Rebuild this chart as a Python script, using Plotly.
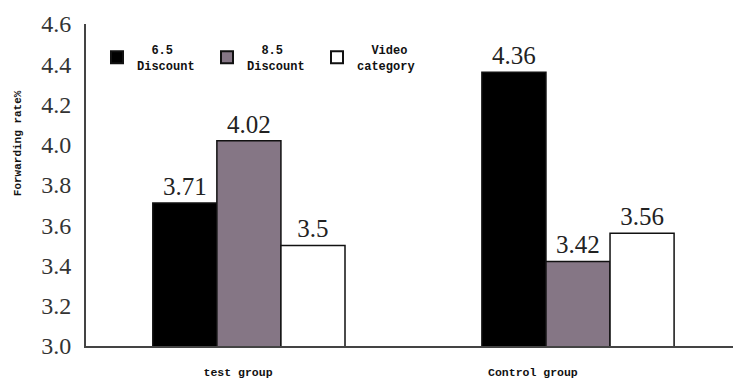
import plotly.graph_objects as go

groups = ["test group", "Control group"]
legend_labels = ["\u00a0\u00a06.5<br>Discount", "\u00a0\u00a08.5<br>Discount", "\u00a0\u00a0Video<br>category"]
disc65 = [3.71, 4.36]
disc85 = [4.02, 3.42]
video = [3.5, 3.56]
colors = ["#000000", "#857685", "#ffffff"]
ytick_vals = [3.0, 3.2, 3.4, 3.6, 3.8, 4.0, 4.2, 4.4, 4.6]
# category label positions (labels in the original sit slightly left of the bar groups)
label_pos = [-0.033, 0.863]

xpos = list(range(len(groups)))
fig = go.Figure()
for vals, name, col in zip([disc65, disc85, video], legend_labels, colors):
    fig.add_trace(go.Bar(
        x=xpos, y=vals, name=name,
        marker=dict(color=col, line=dict(color="#111111", width=1.5)),
        text=[f"{v:g}" for v in vals], textposition="outside",
        textfont=dict(family="Liberation Serif", size=25, color="#222222"),
        cliponaxis=False,
    ))

fig.update_layout(
    width=733, height=379,
    margin=dict(l=86, r=0, t=24, b=31),
    paper_bgcolor="white", plot_bgcolor="white",
    barmode="group", bargap=0.416, bargroupgap=0,
    showlegend=True,
    legend=dict(orientation="h", x=0.017, y=0.965, xanchor="left", yanchor="top",
                font=dict(family="Liberation Mono", size=12, color="#111111", weight="bold"),
                entrywidth=65, entrywidthmode="pixels",
                bgcolor="rgba(0,0,0,0)", itemsizing="constant"),
    xaxis=dict(range=[-0.495, 1.471], tickvals=label_pos, ticktext=groups,
               showgrid=False, zeroline=False, showline=True, linecolor="#444444", linewidth=2,
               ticks="", ticklabelstandoff=14,
               tickfont=dict(family="Liberation Mono", size=11.5, color="#111111", weight="bold")),
    yaxis=dict(range=[3.0, 4.6], tickvals=ytick_vals, ticktext=[f"{v:.1f}" for v in ytick_vals],
               showgrid=False, zeroline=False, showline=True, linecolor="#444444", linewidth=2,
               ticks="", ticklabelstandoff=8,
               tickfont=dict(family="Liberation Serif", size=24, color="#333333")),
    annotations=[dict(text="<b>Forwarding rate%</b>", xref="paper", yref="paper",
                      x=-0.105, y=0.63, xanchor="center", yanchor="middle", textangle=-90,
                      showarrow=False, font=dict(family="Liberation Mono", size=11, color="#111111"))],
)
fig.write_html("out.html")
